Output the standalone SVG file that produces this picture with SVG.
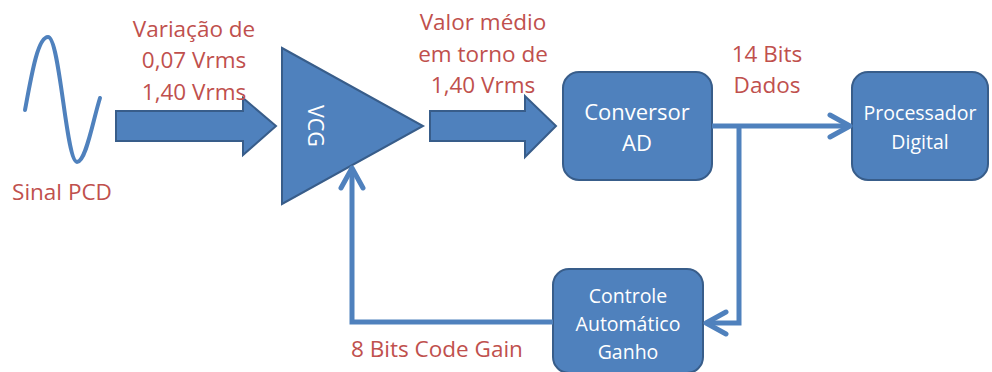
<svg xmlns="http://www.w3.org/2000/svg" width="992" height="372" viewBox="0 0 992 372">
<style>
.blk{fill:#4F81BD;stroke:#385D8A;stroke-width:2}
.lbl{font-family:"Open Sans",Lato,"Liberation Sans",sans-serif;font-size:22.5px;fill:#C0504D;text-anchor:middle}
.wt{font-family:"Open Sans",Lato,"Liberation Sans",sans-serif;fill:#FFFFFF;text-anchor:middle}
.ln{fill:none;stroke:#4F81BD;stroke-width:5}
</style>
<defs>
<marker id="open" viewBox="0 0 26 28" refX="23" refY="14" markerWidth="26" markerHeight="28" markerUnits="userSpaceOnUse" orient="auto">
<path d="M3,3 L23,14 L3,25" fill="none" stroke="#4F81BD" stroke-width="5" stroke-linecap="round" stroke-linejoin="round"/>
</marker>
</defs>
<g id="signal">
<path d="M25,110 C32,72 38,37 48,37 C60,37 66,162 77,162 C86,162 93,120 100,98" fill="none" stroke="#4F81BD" stroke-width="4" stroke-linecap="round"/>
<text class="lbl" x="62" y="200">Sinal PCD</text>
</g>
<g id="input-arrow">
<path class="blk" d="M116,111 L243,111 L243,98 L276,126 L243,155 L243,141 L116,141 Z"/>
<text class="lbl" x="194" y="37">Variação de</text>
<text class="lbl" x="194" y="68">0,07 Vrms</text>
<text class="lbl" x="194" y="100">1,40 Vrms</text>
</g>
<g id="vcg">
<path class="blk" d="M282,48 L423,126 L282,204 Z"/>
<text class="wt" font-size="21.5" transform="translate(308,126) rotate(90)">VCG</text>
</g>
<g id="mid-arrow">
<path class="blk" d="M430,111 L525,111 L525,96 L556,126 L525,157 L525,141 L430,141 Z"/>
<text class="lbl" x="483" y="30">Valor médio</text>
<text class="lbl" x="483" y="62">em torno de</text>
<text class="lbl" x="483" y="93">1,40 Vrms</text>
</g>
<g id="conversor">
<rect class="blk" x="563" y="72" width="149" height="108" rx="16"/>
<text class="wt" font-size="22" x="637" y="120">Conversor</text>
<text class="wt" font-size="22" x="637" y="151">AD</text>
</g>
<g id="processador">
<rect class="blk" x="852" y="72" width="136" height="108" rx="16"/>
<text class="wt" font-size="19.5" x="920" y="120">Processador</text>
<text class="wt" font-size="19.5" x="920" y="149">Digital</text>
</g>
<g id="controle">
<rect class="blk" x="553" y="269" width="150" height="104" rx="16"/>
<text class="wt" font-size="19.5" x="628" y="303">Controle</text>
<text class="wt" font-size="19.5" x="628" y="331">Automático</text>
<text class="wt" font-size="19.5" x="628" y="359">Ganho</text>
</g>
<g id="connectors">
<path class="ln" d="M712,126 L850,126" marker-end="url(#open)"/>
<path class="ln" d="M739,126 L739,323 L706,323" marker-end="url(#open)"/>
<path class="ln" d="M553,322 L352,322 L352,168" marker-end="url(#open)"/>
</g>
<text class="lbl" x="437" y="357">8 Bits Code Gain</text>
<text class="lbl" x="767" y="62">14 Bits</text>
<text class="lbl" x="767" y="93">Dados</text>
</svg>
